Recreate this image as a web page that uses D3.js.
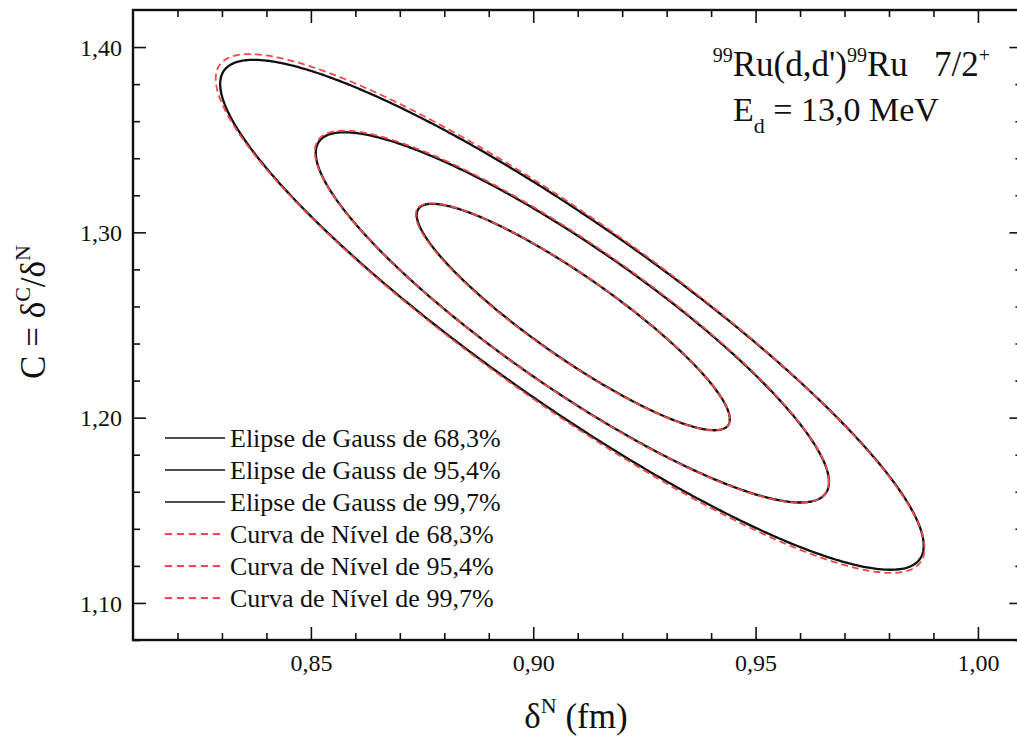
<!DOCTYPE html>
<html>
<head>
<meta charset="utf-8">
<script src="https://cdn.jsdelivr.net/npm/d3@7"></script>
<style>
  html, body { margin: 0; padding: 0; background: #fff; }
  svg { display: block; }
  text { font-family: "Liberation Serif", "Times New Roman", serif; fill: #111; }
</style>
</head>
<body>
<svg id="chart" width="1017" height="739"></svg>
<script>
// ---------- data ----------
const confidenceLevels = ["68,3%", "95,4%", "99,7%"];

// Gauss ellipses (black, solid): centre, semi-extents along x and y, correlation
const gaussCx  = [0.9090, 0.9088, 0.9087];
const gaussCy  = [1.2543, 1.2541, 1.2555];
const gaussSx  = [0.0352, 0.0577, 0.0791];
const gaussSy  = [0.0611, 0.0999, 0.1376];
const gaussRho = [-0.901, -0.888, -0.905];

// Level curves (red, dashed)
const levelCx  = [0.9089, 0.9087, 0.9083];
const levelCy  = [1.2544, 1.2545, 1.2562];
const levelSx  = [0.0353, 0.0578, 0.0797];
const levelSy  = [0.0612, 0.1004, 0.1400];
const levelRho = [-0.900, -0.887, -0.905];

// axes
const xDomain = [0.81, 1.01];
const yDomain = [1.08, 1.42];
const xMajorTicks = [0.85, 0.90, 0.95, 1.00];
const xMinorTicks = [0.82, 0.83, 0.84, 0.86, 0.87, 0.88, 0.89, 0.91, 0.92, 0.93, 0.94, 0.96, 0.97, 0.98, 0.99];
const yMajorTicks = [1.10, 1.20, 1.30, 1.40];
const yMinorTicks = [1.08, 1.12, 1.14, 1.16, 1.18, 1.22, 1.24, 1.26, 1.28, 1.32, 1.34, 1.36, 1.38];

const legendGauss = confidenceLevels.map(l => "Elipse de Gauss de " + l);
const legendLevel = confidenceLevels.map(l => "Curva de N\u00edvel de " + l);

// ---------- layout ----------
const svg = d3.select("#chart");
const pLeft = 133, pRight = 1022.4, pTop = 10, pBottom = 640;
const x = d3.scaleLinear().domain(xDomain).range([pLeft, pRight]);
const y = d3.scaleLinear().domain(yDomain).range([pBottom, pTop]);
const fmt = d => d3.format(".2f")(d).replace(".", ",");

const RED = "#ef4a4a";

// ---------- ellipses ----------
function ellipsePoints(cx, cy, sx, sy, rho) {
  const s = Math.sqrt(1 - rho * rho);
  return d3.range(0, 721).map(i => {
    const t = i / 720 * 2 * Math.PI;
    return [cx + sx * Math.cos(t), cy + sy * (rho * Math.cos(t) + s * Math.sin(t))];
  });
}
const line = d3.line().x(d => x(d[0])).y(d => y(d[1])).curve(d3.curveLinear);

const gPlot = svg.append("g");
confidenceLevels.forEach((l, i) => {
  gPlot.append("path")
    .attr("d", line(ellipsePoints(gaussCx[i], gaussCy[i], gaussSx[i], gaussSy[i], gaussRho[i])))
    .attr("fill", "none").attr("stroke", "#111").attr("stroke-width", 2.3);
});
confidenceLevels.forEach((l, i) => {
  gPlot.append("path")
    .attr("d", line(ellipsePoints(levelCx[i], levelCy[i], levelSx[i], levelSy[i], levelRho[i])))
    .attr("fill", "none").attr("stroke", RED).attr("stroke-width", 1.8)
    .attr("stroke-dasharray", "7,4");
});

// ---------- axes ----------
function styleAxis(g) {
  g.select(".domain").remove();
  g.selectAll(".tick line").attr("stroke", "#111").attr("stroke-width", 1.6);
}
// bottom
svg.append("g").attr("transform", `translate(0,${pBottom})`)
  .call(d3.axisBottom(x).tickValues(xMinorTicks).tickSize(-7).tickFormat(""))
  .call(styleAxis);
const bMaj = svg.append("g").attr("transform", `translate(0,${pBottom})`)
  .call(d3.axisBottom(x).tickValues(xMajorTicks).tickSize(-13).tickFormat(fmt))
  .call(styleAxis);
bMaj.selectAll(".tick text").attr("y", 14).attr("dy", "0.71em")
  .style("font-size", "24px").style("font-family", "Liberation Serif, serif").attr("fill", "#111");
// top
svg.append("g").attr("transform", `translate(0,${pTop})`)
  .call(d3.axisTop(x).tickValues(xMinorTicks).tickSize(-7).tickFormat(""))
  .call(styleAxis);
svg.append("g").attr("transform", `translate(0,${pTop})`)
  .call(d3.axisTop(x).tickValues(xMajorTicks).tickSize(-13).tickFormat(""))
  .call(styleAxis);
// left
svg.append("g").attr("transform", `translate(${pLeft},0)`)
  .call(d3.axisLeft(y).tickValues(yMinorTicks).tickSize(-7).tickFormat(""))
  .call(styleAxis);
const lMaj = svg.append("g").attr("transform", `translate(${pLeft},0)`)
  .call(d3.axisLeft(y).tickValues(yMajorTicks).tickSize(-13).tickFormat(fmt))
  .call(styleAxis);
lMaj.selectAll(".tick text").attr("x", -11).attr("dy", "0.34em")
  .style("font-size", "24px").style("font-family", "Liberation Serif, serif").attr("fill", "#111");
// right
svg.append("g").attr("transform", `translate(${pRight},0)`)
  .call(d3.axisRight(y).tickValues(yMinorTicks).tickSize(-7).tickFormat(""))
  .call(styleAxis);
svg.append("g").attr("transform", `translate(${pRight},0)`)
  .call(d3.axisRight(y).tickValues(yMajorTicks).tickSize(-13).tickFormat(""))
  .call(styleAxis);

// frame
svg.append("rect")
  .attr("x", x(xDomain[0])).attr("y", y(yDomain[1]))
  .attr("width", x(xDomain[1]) - x(xDomain[0])).attr("height", y(yDomain[0]) - y(yDomain[1]))
  .attr("fill", "none").attr("stroke", "#111").attr("stroke-width", 2.4);

// ---------- legend ----------
const legendItems = legendGauss.map(t => ({ t, c: "#111", dash: null }))
  .concat(legendLevel.map(t => ({ t, c: RED, dash: "7,5" })));
const lg = svg.append("g");
legendItems.forEach((d, i) => {
  const yy = 438 + i * 32;
  lg.append("line").attr("x1", 165).attr("x2", 225).attr("y1", yy).attr("y2", yy)
    .attr("stroke", d.c).attr("stroke-width", d.dash ? 1.8 : 1.6)
    .attr("stroke-dasharray", d.dash);
  lg.append("text").attr("x", 230).attr("y", yy).attr("dy", "0.34em")
    .style("font-size", "26px").text(d.t);
});

// ---------- annotation ----------
const a1 = svg.append("text").attr("x", 990).attr("y", 76).attr("text-anchor", "end")
  .style("font-size", "35px");
a1.append("tspan").attr("dy", -14).style("font-size", "20px").text("99");
a1.append("tspan").attr("dy", 14).text("Ru(d,d')");
a1.append("tspan").attr("dy", -14).style("font-size", "20px").text("99");
a1.append("tspan").attr("dy", 14).text("Ru\u00a0\u00a0 7/2");
a1.append("tspan").attr("dy", -14).style("font-size", "20px").text("+");

const a2 = svg.append("text").attr("x", 733).attr("y", 121).style("font-size", "34px");
a2.append("tspan").text("E");
a2.append("tspan").attr("dy", 12).style("font-size", "22px").text("d");
a2.append("tspan").attr("dy", -12).text(" = 13,0 MeV");

// ---------- axis titles ----------
const xt = svg.append("text").attr("x", 576).attr("y", 728).attr("text-anchor", "middle")
  .style("font-size", "35px");
xt.append("tspan").text("\u03b4");
xt.append("tspan").attr("dy", -15).style("font-size", "22px").text("N");
xt.append("tspan").attr("dy", 15).text(" (fm)");

const yt = svg.append("text").attr("transform", "translate(45,312) rotate(-90)")
  .attr("text-anchor", "middle").style("font-size", "35px");
yt.append("tspan").text("C = \u03b4");
yt.append("tspan").attr("dy", -15).style("font-size", "22px").text("C");
yt.append("tspan").attr("dy", 15).text("/\u03b4");
yt.append("tspan").attr("dy", -15).style("font-size", "22px").text("N");
</script>
</body>
</html>
